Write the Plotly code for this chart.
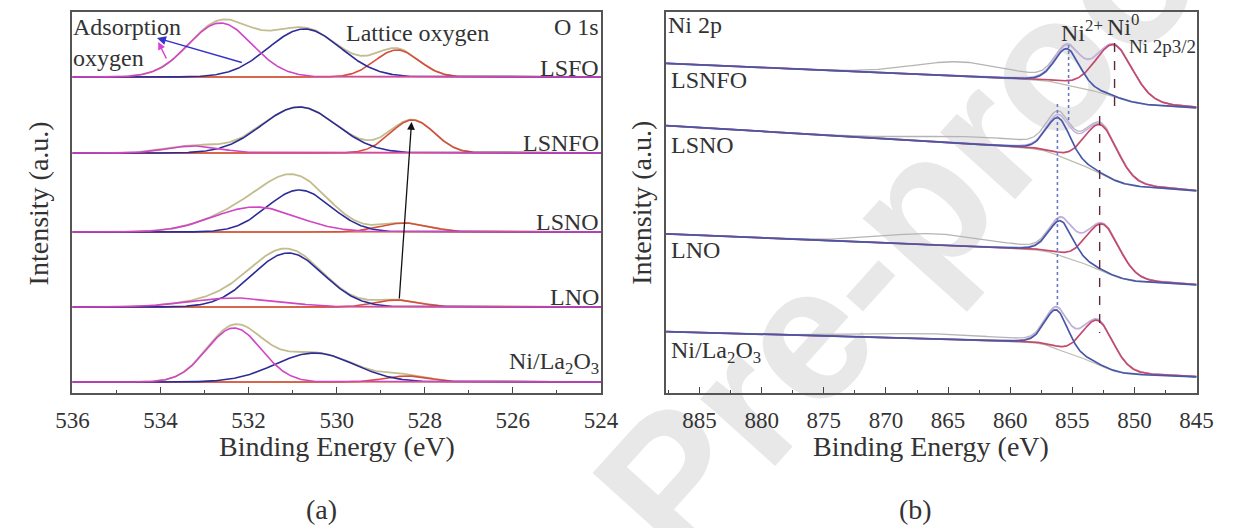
import numpy as np
import plotly.graph_objects as go

# ---------------- Panel (a): O 1s ----------------
O1S_SAMPLES = ["LSFO", "LSNFO", "LSNO", "LNO", "Ni/La<sub>2</sub>O<sub>3</sub>"]
O1S_BASELINE = [316, 240, 161, 86, 11]
ADS_CENTER = [532.64, 533.25, 531.85, 532.30, 532.33]
ADS_HEIGHT = [54, 7, 25, 9, 54]
ADS_SIGMA = [0.72, 0.60, 0.95, 1.00, 0.62]
MID_CENTER = [530.73, 530.85, 530.85, 531.10, 530.50]
MID_HEIGHT = [48, 46, 42, 54, 29]
MID_SIGMA = [0.82, 0.85, 0.72, 0.80, 0.90]
LAT_CENTER = [528.63, 528.28, 528.45, 528.63, 528.40]
LAT_HEIGHT = [27, 33, 9, 7, 6]
LAT_SIGMA = [0.50, 0.50, 0.55, 0.50, 0.50]
O1S_LABEL_Y = [325, 250, 171, 96, 30]
O1S_TICKS = [536, 534, 532, 530, 528, 526, 524]

# ---------------- Panel (b): Ni 2p ----------------
NI_SAMPLES = ["LSNFO", "LSNO", "LNO", "Ni/La<sub>2</sub>O<sub>3</sub>"]
BG_845 = [285, 202, 108, 16]
BG_858 = [313, 244, 143, 50]
BG_887 = [329, 266, 158, 60]
NI2_CENTER = [855.4, 856.1, 855.9, 856.25]
NI2_HEIGHT = [36, 38, 35, 39]
NI2_FWHM = [2.4, 2.3, 2.3, 2.2]
NI0_CENTER = [851.6, 852.65, 852.5, 852.9]
NI0_HEIGHT = [52, 49, 47, 44]
NI0_FWHM = [3.6, 3.2, 3.2, 3.0]
SAT_CENTER = [864.0, 862.0, 866.0, 866.0]
SAT_HEIGHT = [14, 7, 11, 5]
SAT_FWHM = [9, 12, 10, 12]
NI_LABEL_Y = [313, 248, 143, 41]
NI_TICKS = [885, 880, 875, 870, 865, 860, 855, 850, 845]

FONT = "Liberation Serif, Times New Roman, serif"
TXT = "#333333"


def gauss(x, c, h, s):
    return h * np.exp(-((x - c) ** 2) / (2 * s * s))


def pvoigt(x, c, h, w, eta=0.25):
    g = np.exp(-4 * np.log(2) * (x - c) ** 2 / (w * w))
    l = 1.0 / (1 + 4 * (x - c) ** 2 / (w * w))
    return h * (eta * l + (1 - eta) * g)


fig = go.Figure()

# ----- panel a traces -----
xa = np.linspace(524, 536, 481)
for i in range(len(O1S_SAMPLES)):
    b = O1S_BASELINE[i]
    ads = gauss(xa, ADS_CENTER[i], ADS_HEIGHT[i], ADS_SIGMA[i])
    mid = gauss(xa, MID_CENTER[i], MID_HEIGHT[i], MID_SIGMA[i])
    lat = gauss(xa, LAT_CENTER[i], LAT_HEIGHT[i], LAT_SIGMA[i])
    base = np.full_like(xa, b)
    common = dict(mode="lines", xaxis="x", yaxis="y", hoverinfo="skip", showlegend=False)
    fig.add_trace(go.Scatter(x=xa, y=b + ads + mid + lat, line=dict(color="#c2bc8e", width=1.8), **common))
    fig.add_trace(go.Scatter(x=xa, y=base, line=dict(color="#e08a50", width=1.6), **common))
    fig.add_trace(go.Scatter(x=xa, y=b + lat, line=dict(color="#d4503e", width=1.6), **common))
    fig.add_trace(go.Scatter(x=xa, y=b + mid, line=dict(color="#2c2c98", width=1.6), **common))
    fig.add_trace(go.Scatter(x=xa, y=b + ads, line=dict(color="#cf45c4", width=1.6), **common))

# ----- panel b traces -----
xb = np.linspace(845, 887.7, 700)
for i in range(len(NI_SAMPLES)):
    p2 = pvoigt(xb, NI2_CENTER[i], NI2_HEIGHT[i], NI2_FWHM[i])
    p0 = pvoigt(xb, NI0_CENTER[i], NI0_HEIGHT[i], NI0_FWHM[i])
    sat = pvoigt(xb, SAT_CENTER[i], SAT_HEIGHT[i], SAT_FWHM[i], 0.0)
    cum = np.cumsum(p2 + p0)
    S = cum / cum[-1]
    slope = (BG_887[i] - BG_858[i]) / (887.7 - 858.0)
    s858 = np.interp(858.0, xb, S)
    step = (BG_858[i] - BG_845[i] - slope * 13.0) / s858
    bg = BG_845[i] + slope * (xb - 845) + step * S
    common = dict(mode="lines", xaxis="x2", yaxis="y2", hoverinfo="skip", showlegend=False)
    fig.add_trace(go.Scatter(x=xb, y=bg + p2 + p0 + sat, line=dict(color="#b4b4b4", width=1.3), **common))
    fig.add_trace(go.Scatter(x=xb, y=bg, line=dict(color="#bcbcae", width=1.2), **common))
    fig.add_trace(go.Scatter(x=xb, y=bg + p2 + p0, line=dict(color="#c4b0e4", width=1.5), **common))
    fig.add_trace(go.Scatter(x=xb, y=bg + p0, line=dict(color="#c44a6c", width=1.7), **common))
    fig.add_trace(go.Scatter(x=xb, y=bg + p2, line=dict(color="#4858a8", width=1.7), **common))

axis_common = dict(showgrid=False, zeroline=False, showline=True, linecolor="#555555",
                   linewidth=1.5, mirror=True)
xcommon = dict(axis_common, ticks="inside", ticklen=6, tickwidth=1.2, tickcolor="#444444",
               ticklabelstandoff=6, tickfont=dict(family=FONT, size=23, color=TXT))
Y0, Y1 = 393, 12
H = 528
ydom = [(H - Y0) / H, (H - Y1) / H]

fig.update_layout(
    width=1234, height=528,
    margin=dict(l=0, r=0, t=0, b=0),
    paper_bgcolor="white", plot_bgcolor="rgba(0,0,0,0)",
    showlegend=False,
    xaxis=dict(xcommon, domain=[57 / 1234, 601 / 1234], range=[536, 524], tickvals=O1S_TICKS,
               minor=dict(ticks="inside", ticklen=3, dtick=1, tick0=524, tickcolor="#444444"),
               anchor="y"),
    yaxis=dict(axis_common, domain=ydom, range=[0, 381], showticklabels=False, ticks="", anchor="x"),
    xaxis2=dict(xcommon, domain=[668 / 1234, 1214 / 1234], range=[887.7, 845], tickvals=NI_TICKS,
                minor=dict(ticks="inside", ticklen=3, dtick=2.5, tick0=845, tickcolor="#444444"),
                anchor="y2"),
    yaxis2=dict(axis_common, domain=ydom, range=[0, 381], showticklabels=False, ticks="", anchor="x2"),
)

ann = []
f24 = dict(family=FONT, size=24, color=TXT)
f28 = dict(family=FONT, size=28, color=TXT)


def txt(x, y, text, xref, yref, xanchor="center", font=f24, angle=0):
    return dict(x=x, y=y, xref=xref, yref=yref, text=text, xanchor=xanchor, yanchor="middle",
                showarrow=False, font=font, textangle=angle, borderpad=0)


# panel a text
ann.append(txt(536.0, 366, "Adsorption", "x", "y", "left"))
ann.append(txt(536.0, 335, "oxygen", "x", "y", "left"))
ann.append(txt(528.17, 360, "Lattice oxygen", "x", "y"))
ann.append(txt(524.02, 366, "O 1s", "x", "y", "right"))
for i, s in enumerate(O1S_SAMPLES):
    ann.append(txt(524.02, O1S_LABEL_Y[i], s, "x", "y", "right"))
# arrows panel a
ann.append(dict(x=528.30, y=271, ax=528.58, ay=93, xref="x", yref="y", axref="x", ayref="y",
                showarrow=True, arrowhead=2, arrowsize=1.2, arrowwidth=1.3, arrowcolor="#111111", text=""))
ann.append(dict(x=534.08, y=355, ax=532.12, ay=330, xref="x", yref="y", axref="x", ayref="y",
                showarrow=True, arrowhead=2, arrowsize=1.2, arrowwidth=1.5, arrowcolor="#3434c8", text=""))
ann.append(dict(x=534.05, y=351, ax=533.85, ay=333, xref="x", yref="y", axref="x", ayref="y",
                showarrow=True, arrowhead=2, arrowsize=1.0, arrowwidth=1.5, arrowcolor="#d840d8", text=""))
# panel b text
ann.append(txt(887.6, 368, "Ni 2p", "x2", "y2", "left"))
for i, s in enumerate(NI_SAMPLES):
    ann.append(txt(887.4, NI_LABEL_Y[i], s, "x2", "y2", "left"))
ann.append(txt(854.2, 362, "Ni<sup>2+</sup>", "x2", "y2", "center"))
ann.append(txt(850.9, 368, "Ni<sup>0</sup>", "x2", "y2", "center"))
ann.append(txt(845.0, 346, "Ni 2p3/2", "x2", "y2", "right", font=dict(family=FONT, size=19, color=TXT)))
# axis titles and panel labels
for xc in [22 / 1234, 642 / 1234]:
    ann.append(txt(xc, (H - 203) / H, "Intensity (a.u.)", "paper", "paper", font=f28, angle=-90))
for xc in [329 / 1234, 941 / 1234]:
    ann.append(txt(xc, (H - 446) / H, "Binding Energy (eV)", "paper", "paper", font=f28))
ann.append(txt(313 / 1234, (H - 509) / H, "(a)", "paper", "paper", font=f28))
ann.append(txt(925 / 1234, (H - 509) / H, "(b)", "paper", "paper", font=f28))
fig.update_layout(annotations=ann)

shapes = [
    dict(type="line", xref="x2", yref="y2", x0=855.3, x1=855.3, y0=348, y1=273,
         line=dict(color="#6a78c4", width=1.6, dash="dot")),
    dict(type="line", xref="x2", yref="y2", x0=856.2, x1=856.2, y0=289, y1=86,
         line=dict(color="#6a78c4", width=1.6, dash="dot")),
    dict(type="line", xref="x2", yref="y2", x0=851.6, x1=851.6, y0=350, y1=285,
         line=dict(color="#5a2a3a", width=1.4, dash="dash")),
    dict(type="line", xref="x2", yref="y2", x0=852.8, x1=852.8, y0=277, y1=60,
         line=dict(color="#5a2a3a", width=1.4, dash="dash")),
    # watermark
    dict(type="line", xref="paper", yref="paper", x0=745 / 1234, x1=1245 / 1234,
         y0=(H - 540) / H, y1=(H + 0) / H, layer="below", line=dict(color="rgba(0,0,0,0)", width=0),
         label=dict(text="<b>Pre-proof</b>", textangle=-48, textposition="middle",
                    font=dict(family="Liberation Sans, Arial, sans-serif", size=190, color="#e8e8e8"))),
]
fig.update_layout(shapes=shapes)

fig.write_html("out.html")
